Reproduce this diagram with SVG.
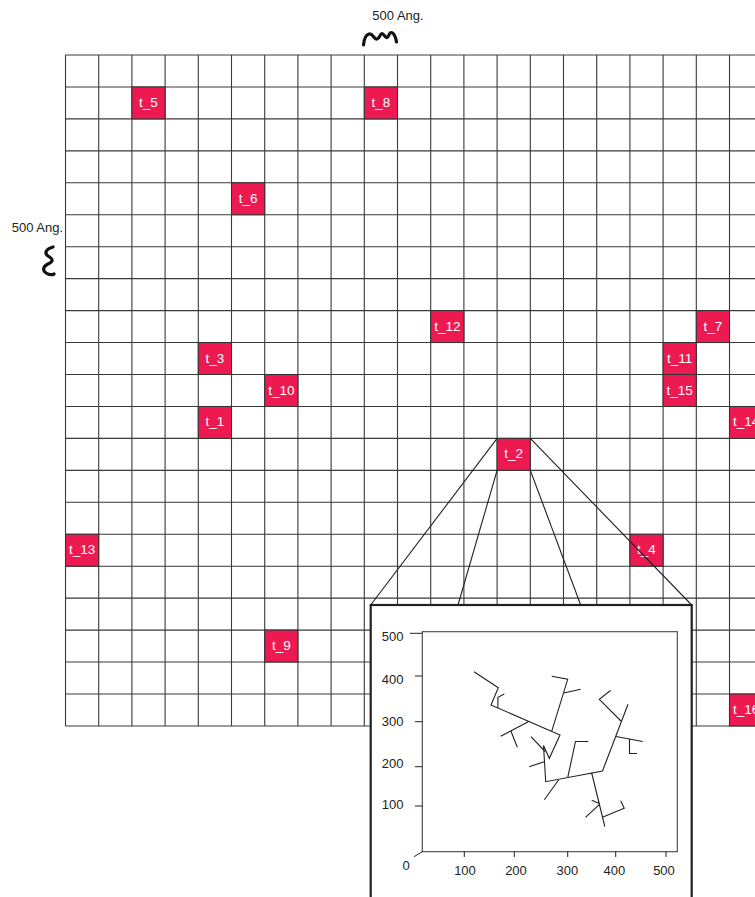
<svg xmlns="http://www.w3.org/2000/svg" width="755" height="897" viewBox="0 0 755 897">
<style>
.grid{fill:none;stroke:#3a3a3a;stroke-width:1.1}
.node rect{fill:#EC1A50;stroke:#333;stroke-width:1}
.node text{font-family:"Liberation Sans",Arial,sans-serif;font-size:13.5px;fill:#fff;text-anchor:middle}
.lbl{font-family:"Liberation Sans",Arial,sans-serif;font-size:13px;fill:#231f20}
.conn line{stroke:#231f20;stroke-width:1.1}
.tree{fill:none;stroke:#231f20;stroke-width:1.1;stroke-linejoin:miter}
.squig{fill:none;stroke:#111;stroke-width:3.2;stroke-linecap:round;stroke-linejoin:round}
</style>
<rect width="755" height="897" fill="#fff"/>
<!-- grid -->
<path class="grid" d="M65.5,55V725.95M98.7,55V725.95M131.9,55V725.95M165.1,55V725.95M198.3,55V725.95M231.5,55V725.95M264.7,55V725.95M297.9,55V725.95M331.1,55V725.95M364.3,55V725.95M397.5,55V725.95M430.7,55V725.95M463.9,55V725.95M497.1,55V725.95M530.3,55V725.95M563.5,55V725.95M596.7,55V725.95M629.9,55V725.95M663.1,55V725.95M696.3,55V725.95M729.5,55V725.95M762.7,55V725.95
M65.5,55H762.7M65.5,86.95H762.7M65.5,118.9H762.7M65.5,150.85H762.7M65.5,182.8H762.7M65.5,214.75H762.7M65.5,246.7H762.7M65.5,278.65H762.7M65.5,310.6H762.7M65.5,342.55H762.7M65.5,374.5H762.7M65.5,406.45H762.7M65.5,438.4H762.7M65.5,470.35H762.7M65.5,502.3H762.7M65.5,534.25H762.7M65.5,566.2H762.7M65.5,598.15H762.7M65.5,630.1H762.7M65.5,662.05H762.7M65.5,694H762.7M65.5,725.95H762.7"/>
<!-- scale labels -->
<text class="lbl" x="398" y="20" text-anchor="middle">500 Ang.</text>
<path class="squig" d="M363.5,45 C364,40 365,35 369,34 C373,33 374,40 377,39 C380,38 380,33.5 382,33.5 C384,33.5 385,38 387,37.5 C389,37 389,32.5 391,32.5 C394,32.5 396,38 396.5,42"/>
<text class="lbl" x="63" y="232" text-anchor="end">500 Ang.</text>
<path class="squig" d="M53,247 C46,249 44,253 48,256 C53,259 54,261 48,264 C42,267 43,271 46,273 C49,275 52,275 54,274"/>
<!-- nodes -->
<g id="t_5" class="node"><rect x="131.9" y="86.95" width="33.2" height="31.95"/><text x="148.5" y="107">t_5</text></g>
<g id="t_8" class="node"><rect x="364.3" y="86.95" width="33.2" height="31.95"/><text x="380.9" y="107">t_8</text></g>
<g id="t_6" class="node"><rect x="231.5" y="182.8" width="33.2" height="31.95"/><text x="248.1" y="202.8">t_6</text></g>
<g id="t_12" class="node"><rect x="430.7" y="310.6" width="33.2" height="31.95"/><text x="447.3" y="330.6">t_12</text></g>
<g id="t_7" class="node"><rect x="696.3" y="310.6" width="33.2" height="31.95"/><text x="712.9" y="330.6">t_7</text></g>
<g id="t_3" class="node"><rect x="198.3" y="342.55" width="33.2" height="31.95"/><text x="214.9" y="362.55">t_3</text></g>
<g id="t_11" class="node"><rect x="663.1" y="342.55" width="33.2" height="31.95"/><text x="679.7" y="362.55">t_11</text></g>
<g id="t_10" class="node"><rect x="264.7" y="374.5" width="33.2" height="31.95"/><text x="281.3" y="394.5">t_10</text></g>
<g id="t_15" class="node"><rect x="663.1" y="374.5" width="33.2" height="31.95"/><text x="679.7" y="394.5">t_15</text></g>
<g id="t_1" class="node"><rect x="198.3" y="406.45" width="33.2" height="31.95"/><text x="214.9" y="426.45">t_1</text></g>
<g id="t_14" class="node"><rect x="729.5" y="406.45" width="33.2" height="31.95"/><text x="746.1" y="426.45">t_14</text></g>
<g id="t_2" class="node"><rect x="497.1" y="438.4" width="33.2" height="31.95"/><text x="513.7" y="458.4">t_2</text></g>
<g id="t_13" class="node"><rect x="65.5" y="534.25" width="33.2" height="31.95"/><text x="82.1" y="554.25">t_13</text></g>
<g id="t_4" class="node"><rect x="629.9" y="534.25" width="33.2" height="31.95"/><text x="646.5" y="554.25">t_4</text></g>
<g id="t_9" class="node"><rect x="264.7" y="630.1" width="33.2" height="31.95"/><text x="281.3" y="650.1">t_9</text></g>
<g id="t_16" class="node"><rect x="729.5" y="694" width="33.2" height="31.95"/><text x="746.1" y="714">t_16</text></g>
<!-- connectors (zoom lines) -->
<g id="connectors" class="conn">
<line x1="497.1" y1="438.4" x2="370.7" y2="605"/>
<line x1="530.3" y1="438.4" x2="691.7" y2="605"/>
<line x1="497.1" y1="470.35" x2="458" y2="605"/>
<line x1="530.3" y1="470.35" x2="580.7" y2="605"/>
</g>
<!-- inset -->
<g id="inset">
<rect x="370.7" y="605" width="321" height="310" fill="#fff" stroke="#231f20" stroke-width="2.2"/>
<rect x="422.3" y="631.7" width="255" height="220" fill="none" stroke="#444" stroke-width="1.1"/>
<path fill="none" stroke="#231f20" stroke-width="1" d="M410,633.3H422.3M415,676H422.3M415,721.7H422.3M415,766.7H422.3M415,806H422.3M414,856.7L422.3,851.7M464.3,851.7V857M514.3,851.7V857M567.7,851.7V857M615.7,851.7V857M666,851.7V857"/>
<g class="lbl" text-anchor="end">
<text x="403.5" y="640.5">500</text>
<text x="403.5" y="684">400</text>
<text x="403.5" y="726">300</text>
<text x="403.5" y="767.7">200</text>
<text x="403.5" y="808.7">100</text>
</g>
<text class="lbl" x="402.5" y="870">0</text>
<g class="lbl" text-anchor="middle">
<text x="465" y="875">100</text>
<text x="516" y="875">200</text>
<text x="567.3" y="875">300</text>
<text x="614.3" y="875">400</text>
<text x="664" y="875">500</text>
</g>
<path class="tree" d="M474,671.7 L498.3,687.7 L491,705 L560,735 L549.3,758.3 L543.5,745.5 L545.7,781.7 L602.5,771 L628,704.3
M504.3,694 L497.9,697.3 L497.9,707.5
M528.3,721.7 L500.7,736.3
M511,731.2 L517.3,747.3
M551.7,731.4 L567.7,679.3 L551.7,676.3
M563.8,693 L580.7,689.3
M531,736.7 L545,751.5
M529.2,766.7 L544.3,761.7
M621.5,721.5 L599.3,699.3 L610.5,690.5
M616,736.5 L642.7,741.5
M629.5,739.2 L629.5,753.5 L637,753.5
M567.8,777.2 L575.5,741.5 L588.3,741.5
M559.3,779 L544.3,799.7
M591.7,773 L604.8,826.5
M585.5,817.3 L600,803.8 M591.7,800.3 L600,803.8
M603,817 L624.2,808.3 L620.7,800.7"/>
</g>
</svg>
